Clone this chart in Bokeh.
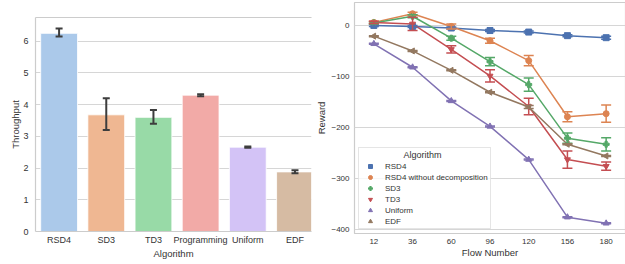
from bokeh.plotting import figure
from bokeh.models import (FactorRange, Range1d, Whisker, TeeHead, ColumnDataSource,
                          Legend, LegendItem, LinearAxis, FixedTicker)
from bokeh.layouts import row, column
from bokeh.embed import file_html
from bokeh.resources import INLINE

# ---------------- data ----------------
algorithms = ["RSD4", "SD3", "TD3", "Programming", "Uniform", "EDF"]
throughput = [6.25, 3.68, 3.60, 4.30, 2.66, 1.88]
throughput_lo = [6.15, 3.20, 3.40, 4.27, 2.64, 1.84]
throughput_hi = [6.40, 4.20, 3.83, 4.33, 2.68, 1.93]
bar_colors = ["#ABC9EA", "#EFB792", "#98DAA7", "#F2AAA7", "#D3C3F6", "#D6BBA3"]

flows = ["12", "36", "60", "96", "120", "156", "180"]
series_names = ["RSD4", "RSD4 without decomposition", "SD3", "TD3", "Uniform", "EDF"]
rsd4 = [0, -2, -5, -10, -13, -20, -24]
rsd4_err = [2, 2, 2, 2, 2, 2, 3]
rsd4_nodec = [6, 23, -2, -30, -69, -179, -173]
rsd4_nodec_err = [2, 3, 5, 5, 10, 10, 17]
sd3 = [5, 18, -25, -71, -116, -221, -233]
sd3_err = [2, 3, 4, 8, 13, 10, 13]
td3 = [6, 3, -47, -99, -159, -263, -276]
td3_err = [2, 13, 7, 12, 16, 17, 8]
uniform = [-36, -82, -148, -198, -263, -376, -388]
uniform_err = [1, 1, 1, 1, 1, 1, 1]
edf = [-21, -50, -88, -131, -160, -233, -256]
edf_err = [1, 1, 1, 1, 3, 1, 1]

series_values = [rsd4, rsd4_nodec, sd3, td3, uniform, edf]
series_errs = [rsd4_err, rsd4_nodec_err, sd3_err, td3_err, uniform_err, edf_err]
series_colors = ["#4C72B0", "#DD8452", "#55A868", "#C44E52", "#8172B3", "#937860"]
series_markers = ["square", "circle", "plus", "inverted_triangle", "triangle", "triangle"]
series_angles = [0, 0, 0, 0, 0, 1.5708]
reward_ticks = [0, -100, -200, -300, -400]

FONT = "Liberation Sans"
TXT = "#333333"
GRID = "#d6d6d6"
SPINE = "#cccccc"


def style(p, tick_size):
    p.outline_line_color = SPINE
    p.outline_line_width = 1.2
    for ax in [p.xaxis[0], p.yaxis[0]]:
        ax.axis_line_color = None
        ax.major_tick_line_color = None
        ax.minor_tick_line_color = None
        ax.major_label_text_font = FONT
        ax.major_label_text_font_size = tick_size
        ax.major_label_text_color = TXT
        ax.axis_label_text_font = FONT
        ax.axis_label_text_font_size = "9.5px"
        ax.axis_label_text_font_style = "normal"
        ax.axis_label_text_color = TXT
        ax.major_tick_out = 0
        ax.major_tick_in = 0
    p.xgrid.grid_line_color = None
    p.ygrid.grid_line_color = GRID
    p.ygrid.grid_line_width = 1.2


# ---------------- left: bar chart (right edge cropped as in the source) ----------------
idx = list(range(len(algorithms)))
p1 = figure(x_range=Range1d(-0.5, len(algorithms) - 0.65), y_range=Range1d(0, 6.75),
            frame_width=276, frame_height=214,
            min_border_left=35, min_border_right=2, min_border_top=17, min_border_bottom=27,
            output_backend="svg", toolbar_location=None)
src1 = ColumnDataSource(dict(x=idx, top=throughput, lo=throughput_lo,
                             hi=throughput_hi, color=bar_colors))
p1.vbar(x="x", top="top", width=0.78, fill_color="color", line_color="white",
        line_width=0.8, source=src1)
w1 = Whisker(base="x", lower="lo", upper="hi", source=src1, level="overlay",
             line_color="#3d3d3d", line_width=2,
             upper_head=TeeHead(size=7, line_color="#3d3d3d", line_width=2),
             lower_head=TeeHead(size=7, line_color="#3d3d3d", line_width=2))
p1.add_layout(w1)
style(p1, "9px")
p1.outline_line_color = None
bottom_axis = p1.below[0]
left_axis = p1.left[0]
bottom_axis.axis_line_color = SPINE
bottom_axis.axis_line_width = 1.2
left_axis.axis_line_color = SPINE
left_axis.axis_line_width = 1.2
bottom_axis.ticker = FixedTicker(ticks=idx)
bottom_axis.major_label_overrides = {i: a for i, a in zip(idx, algorithms)}
bottom_axis.axis_label = "Algorithm"
bottom_axis.major_label_standoff = 3
bottom_axis.axis_label_standoff = 0
left_axis.ticker = FixedTicker(ticks=[0, 1, 2, 3, 4, 5, 6])
left_axis.axis_label = "Throughput"
left_axis.major_label_standoff = 7
left_axis.axis_label_standoff = -1
top_axis = LinearAxis(ticker=FixedTicker(ticks=[]), axis_line_color=SPINE,
                      axis_line_width=1.2, major_tick_line_color=None,
                      minor_tick_line_color=None, major_tick_out=0, major_tick_in=0)
p1.add_layout(top_axis, "above")

# ---------------- right: point plot ----------------
p2 = figure(x_range=FactorRange(*flows, range_padding=0), y_range=Range1d(-408, 45),
            frame_width=271, frame_height=231,
            min_border_left=39, min_border_right=1, min_border_top=2, min_border_bottom=27,
            output_backend="svg", toolbar_location=None)
items = []
for name, vals, errs, col, mk, ang in zip(series_names, series_values, series_errs,
                                         series_colors, series_markers, series_angles):
    lo = [v - e for v, e in zip(vals, errs)]
    hi = [v + e for v, e in zip(vals, errs)]
    s = ColumnDataSource(dict(x=flows, y=vals, lo=lo, hi=hi))
    p2.line(x="x", y="y", line_color=col, line_width=1.5, source=s)
    w = Whisker(base="x", lower="lo", upper="hi", source=s, level="glyph",
                line_color=col, line_width=1.5,
                upper_head=TeeHead(size=10, line_color=col, line_width=1.5),
                lower_head=TeeHead(size=10, line_color=col, line_width=1.5))
    p2.add_layout(w)
    r = p2.scatter(x="x", y="y", marker=mk, angle=ang, size=6, fill_color=col,
                   line_color=col, source=s)
    items.append(LegendItem(label=name, renderers=[r]))

style(p2, "8px")
p2.yaxis.ticker = reward_ticks
p2.yaxis.major_label_overrides = {t: (str(t).replace("-", "\u2212")) for t in reward_ticks}
p2.xaxis.axis_label = "Flow Number"
p2.yaxis.axis_label = "Reward"
p2.xaxis.major_label_standoff = 5
p2.xaxis.axis_label_standoff = 0
p2.yaxis.major_label_standoff = 5
p2.yaxis.axis_label_standoff = 1

legend = Legend(items=items, location="bottom_left", margin=4, padding=2,
                title="\u00a0" * 17 + "Algorithm", title_text_font=FONT,
                title_text_font_size="9px",
                title_text_font_style="normal", title_text_color=TXT, title_standoff=1,
                label_text_font=FONT, label_text_font_size="8px", label_text_color=TXT,
                glyph_width=18, glyph_height=10, label_height=10, spacing=1,
                label_standoff=6, border_line_color=SPINE, border_line_width=1,
                background_fill_alpha=0.8)
p2.add_layout(legend)

layout = row(column(p1), column(p2))
open("out.html", "w").write(file_html(layout, INLINE))
